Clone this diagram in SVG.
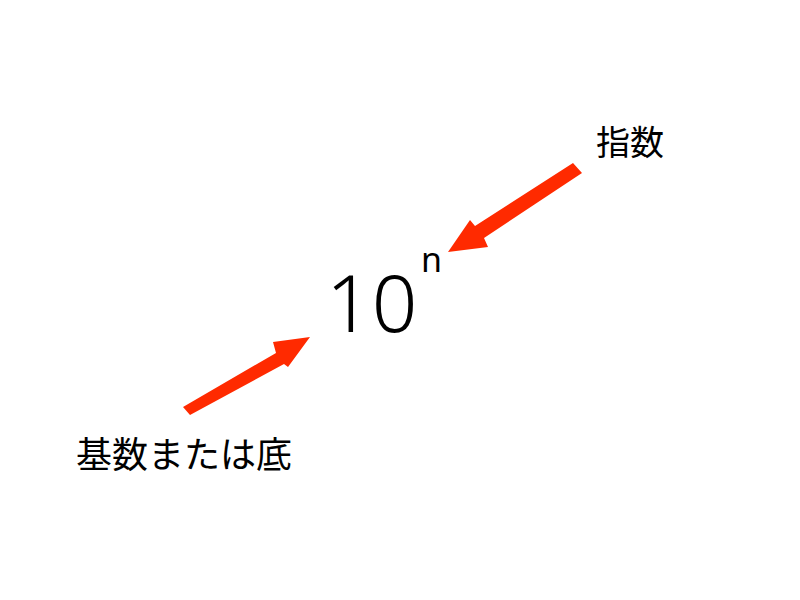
<svg xmlns="http://www.w3.org/2000/svg" width="800" height="600" viewBox="0 0 800 600">
<style>
.jp{font-family:"Noto Sans CJK JP","Noto Sans",sans-serif;fill:#000}
.num{font-family:"Noto Sans","Liberation Sans",sans-serif;fill:#000;font-weight:300}
.sup{font-family:"Noto Sans","Liberation Sans",sans-serif;fill:#000}
.arrow{fill:#ff2a00;stroke:none}
</style>
<rect width="800" height="600" fill="#fff"/>
<g id="base-number">
<text class="num" x="326" y="332" font-size="80">10</text>
</g>
<g id="exponent-n">
<text class="sup" x="421" y="272" font-size="34">n</text>
</g>
<g id="label-exponent">
<text class="jp" x="596" y="155" font-size="34">指数</text>
</g>
<g id="label-base">
<text class="jp" x="76" y="468" font-size="36">基数または底</text>
</g>
<g id="connectors">
<polygon class="arrow" points="183,407 276,353 273,342 310,337 288,367 284,364 190,415"/>
<polygon class="arrow" points="573,163 582,173 484,238 488,247 448,252 470,220 475,226"/>
</g>
</svg>
